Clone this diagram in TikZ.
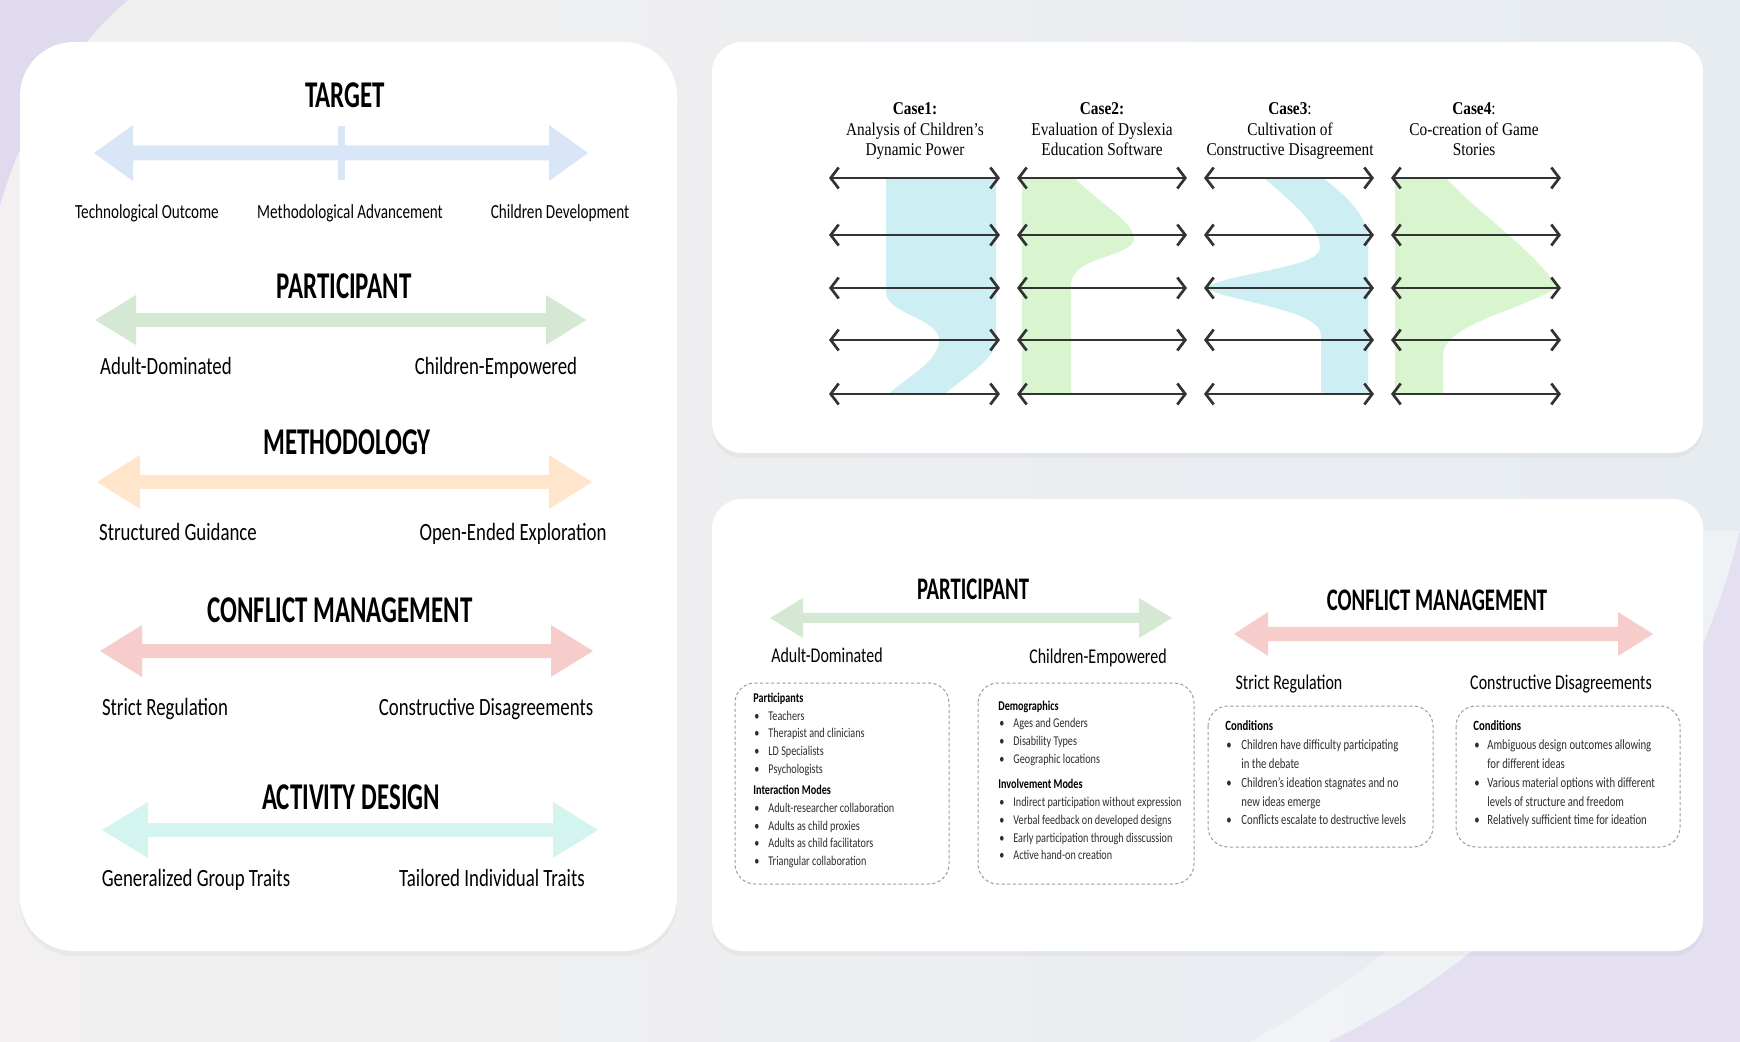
\documentclass[tikz,border=0pt]{standalone}
\usepackage{fontspec}
\setmainfont{Carlito}
\newfontfamily\labf[FakeStretch=0.76]{Carlito}
\newfontfamily\titf[FakeStretch=0.66]{Carlito}
\newfontfamily\serf[FakeStretch=0.85]{Liberation Serif}
\usetikzlibrary{arrows.meta,shadows}

\definecolor{cBlue}{HTML}{D8E6F8}
\definecolor{cGreen}{HTML}{D5E8D4}
\definecolor{cOrange}{HTML}{FFE5CC}
\definecolor{cRed}{HTML}{F6CDCB}
\definecolor{cTeal}{HTML}{D3F4EF}
\definecolor{bandCyan}{HTML}{CDEFF4}
\definecolor{bandGreen}{HTML}{D9F5CF}
\definecolor{lineDark}{HTML}{333333}
\definecolor{dashGray}{HTML}{9C9C9C}
\definecolor{txtGray}{HTML}{2E2E2E}
\definecolor{bgL}{HTML}{F2F0F0}
\definecolor{bgM}{HTML}{EFE2EE}
\definecolor{bgR}{HTML}{E7ECF1}
\definecolor{lavA}{HTML}{DFDAEE}
\definecolor{lavB}{HTML}{E4E0F2}

\newcommand\fatarrow[8]{%
  \fill[#8] (#1,#5) -- (#2,#5-#6) -- (#2,#5-#7) -- (#3,#5-#7) -- (#3,#5-#6)
    -- (#4,#5) -- (#3,#5+#6) -- (#3,#5+#7) -- (#2,#5+#7) -- (#2,#5+#6) -- cycle;}

\tikzset{
  panel/.style={fill=white, draw=none, drop shadow={opacity=0.07, shadow xshift=0pt, shadow yshift=-2.5pt}},
  ttlA/.style={inner sep=0, font=\titf\bfseries\fontsize{18.9}{20}\selectfont, text height=12.2pt, text depth=0pt},
  ttlB/.style={inner sep=0, font=\titf\bfseries\fontsize{15.7}{18}\selectfont, text height=10.1pt, text depth=0pt},
  lblS/.style={inner sep=0, font=\labf\fontsize{10}{12}\selectfont, text height=7.2pt, text depth=2pt},
  lblL/.style={inner sep=0, font=\labf\fontsize{12.4}{14}\selectfont, text height=8.9pt, text depth=2.5pt},
  lblM/.style={inner sep=0, font=\labf\fontsize{10.5}{12}\selectfont, text height=7.6pt, text depth=2.1pt},
  btxt/.style={inner sep=0, anchor=west, text=txtGray, font=\labf\fontsize{6.7}{7.5}\selectfont, text height=4.8pt, text depth=1.4pt},
  bhd/.style={btxt, text=black, font=\labf\bfseries\fontsize{6.7}{7.5}\selectfont},
  ctxt/.style={inner sep=0, anchor=west, text=txtGray, font=\labf\fontsize{7.05}{8}\selectfont, text height=5.1pt, text depth=1.5pt},
  chd/.style={ctxt, text=black, font=\labf\bfseries\fontsize{7.05}{8}\selectfont},
  casettl/.style={inner sep=0, align=center, font=\serf\fontsize{9}{10.4}\selectfont},
  caseline/.style={draw=lineDark, line width=1.35pt, {Straight Barb[length=4pt,width=10.5pt]}-{Straight Barb[length=4pt,width=10.5pt]}},
  dbox/.style={draw=dashGray, line width=0.5pt, dash pattern=on 1.6pt off 1.2pt, rounded corners=10pt},
}

\begin{document}
\begin{tikzpicture}[x=0.5pt, y=-0.5pt]
\useasboundingbox (0,0) rectangle (1740,1042);
% ---------- background ----------
\shade[left color=bgL, middle color=bgM, right color=bgR] (0,0) rectangle (1740,1042);
\fill[lavA] (0,0) -- (128,0) .. controls (70,50) and (25,120) .. (0,205) -- cycle;
\fill[white, opacity=0.35] (1740,531) .. controls (1686,753) and (1535,941) .. (1329,1042)
   -- (1250,1042) .. controls (1450,930) and (1610,760) .. (1670,531) -- cycle;
\fill[lavB] (1740,531) .. controls (1686,753) and (1535,941) .. (1329,1042) -- (1740,1042) -- cycle;

% ---------- panels ----------
\fill[panel, rounded corners=27pt] (20,42) rectangle (677,951);
\fill[panel, rounded corners=15pt] (712,42) rectangle (1703,453);
\fill[panel, rounded corners=15pt] (712,499) rectangle (1703,951);

% ---------- left panel ----------
\fatarrow{94}{133}{549}{588}{153}{28}{7.5}{cBlue}
\fill[cBlue] (338,126) rectangle (345,180);
\node[ttlA] (tTarget) at (345,95) {TARGET};
\node[lblS] (lTech) at (147,213) {Technological Outcome};
\node[lblS] (lMeth) at (350,213) {Methodological Advancement};
\node[lblS] (lChild) at (560,213) {Children Development};

\fatarrow{95}{136}{546}{586}{320}{25}{7}{cGreen}
\node[ttlA] (tPart) at (344,286) {PARTICIPANT};
\node[lblL] (lAdult) at (166,368) {Adult-Dominated};
\node[lblL] (lEmp) at (496,368) {Children-Empowered};

\fatarrow{97}{140}{549}{592}{482}{27}{7}{cOrange}
\node[ttlA] (tMethod) at (347,442) {METHODOLOGY};
\node[lblL] (lStruct) at (178,534) {Structured Guidance};
\node[lblL] (lOpen) at (513,534) {Open-Ended Exploration};

\fatarrow{100}{142}{551}{593}{651}{26}{7}{cRed}
\node[ttlA] (tConf) at (340,610) {CONFLICT MANAGEMENT};
\node[lblL] (lStrict) at (165,709) {Strict Regulation};
\node[lblL] (lConstr) at (486,709) {Constructive Disagreements};

\fatarrow{102}{148}{553}{598}{830}{28}{7}{cTeal}
\node[ttlA] (tAct) at (351,797) {ACTIVITY DESIGN};
\node[lblL] (lGen) at (196,880) {Generalized Group Traits};
\node[lblL] (lTail) at (492,880) {Tailored Individual Traits};

% ---------- top right panel: cases ----------
\fill[bandCyan] (886,178) -- (886,292) .. controls (886,314) and (939,318) .. (939,340)
   .. controls (939,362) and (905,378) .. (889,394) -- (945,394)
   .. controls (962,378) and (996,360) .. (996,340) -- (996,178) -- cycle;
\fill[bandGreen] (1022,178) -- (1075,178) .. controls (1095,200) and (1134,222) .. (1134,238)
   .. controls (1134,258) and (1071,255) .. (1071,285) -- (1071,394) -- (1022,394) -- cycle;
\fill[bandCyan] (1264,178) .. controls (1295,205) and (1320,225) .. (1320,248)
   .. controls (1320,268) and (1232,272) .. (1204,288)
   .. controls (1232,302) and (1321,310) .. (1321,335) -- (1321,394) -- (1368,394) -- (1368,240)
   .. controls (1368,215) and (1345,195) .. (1323,178) -- cycle;
\fill[bandGreen] (1395,178) -- (1446,178) .. controls (1480,215) and (1540,255) .. (1557,288)
   .. controls (1520,310) and (1443,325) .. (1443,355) -- (1443,394) -- (1395,394) -- cycle;

\foreach \c/\xa/\xb in {1/829/1000, 2/1017/1187, 3/1204/1374, 4/1391/1561} {
  \foreach \r/\yy in {1/178, 2/235, 3/288, 4/340, 5/394} {
    \coordinate (a\c\r) at (\xa,\yy);
    \coordinate (b\c\r) at (\xb,\yy);
    \draw[caseline] (a\c\r) -- (b\c\r);
  }
}

\node[casettl] (case1) at (915,131) {\strut\textbf{Case1:}\\\strut Analysis of Children’s\\\strut Dynamic Power};
\node[casettl] (case2) at (1102,131) {\strut\textbf{Case2:}\\\strut Evaluation of Dyslexia\\\strut Education Software};
\node[casettl] (case3) at (1290,131) {\strut\textbf{Case3}:\\\strut Cultivation of\\\strut Constructive Disagreement};
\node[casettl] (case4) at (1474,131) {\strut\textbf{Case4}:\\\strut Co-creation of Game\\\strut Stories};

% ---------- bottom right panel ----------
\fatarrow{770}{803}{1139}{1172}{618}{20}{5}{cGreen}
\node[ttlB] (bPart) at (973,589) {PARTICIPANT};
\node[lblM] (bAdult) at (827,657) {Adult-Dominated};
\node[lblM] (bEmp) at (1098,658) {Children-Empowered};

\fatarrow{1234}{1268}{1618}{1653}{634}{22}{7}{cRed}
\node[ttlB] (bConf) at (1437,600) {CONFLICT MANAGEMENT};
\node[lblM] (bStrict) at (1289,684) {Strict Regulation};
\node[lblM] (bConstr) at (1561,684) {Constructive Disagreements};

\draw[dbox] (735,683) rectangle (949,884);
\draw[dbox] (978,683) rectangle (1194,884);
\draw[dbox] (1208,706) rectangle (1433,847);
\draw[dbox] (1456,706) rectangle (1680,847);

% box 1
\node[bhd] (h11) at (753,699) {Participants};
\foreach \n/\yy/\t in {1/717/Teachers, 2/734/Therapist and clinicians, 3/752/LD Specialists, 4/770/Psychologists,
                       5/809/Adult-researcher collaboration, 6/827/Adults as child proxies,
                       7/844/Adults as child facilitators, 8/862/Triangular collaboration} {
  \node[btxt] (p1b\n) at (754,\yy) {•};
  \node[btxt] (p1t\n) at (768,\yy) {\t};
}
\node[bhd] (h12) at (753,791) {Interaction Modes};
% box 2
\node[bhd] (h21) at (998,707) {Demographics};
\foreach \n/\yy/\t in {1/724/Ages and Genders, 2/742/Disability Types, 3/760/Geographic locations,
                       4/803/Indirect participation without expression, 5/821/Verbal feedback on developed designs,
                       6/839/Early participation through disscussion, 7/856/Active hand-on creation} {
  \node[btxt] (p2b\n) at (999,\yy) {•};
  \node[btxt] (p2t\n) at (1013,\yy) {\t};
}
\node[bhd] (h22) at (998,785) {Involvement Modes};
% box 3
\node[chd] (h31) at (1225,727) {Conditions};
\node[ctxt] (p3b1) at (1226,746) {•};
\node[ctxt] (p3t1) at (1241,746) {Children have difficulty participating};
\node[ctxt] (p3t2) at (1241,765) {in the debate};
\node[ctxt] (p3b3) at (1226,784) {•};
\node[ctxt] (p3t3) at (1241,784) {Children’s ideation stagnates and no};
\node[ctxt] (p3t4) at (1241,803) {new ideas emerge};
\node[ctxt] (p3b5) at (1226,821) {•};
\node[ctxt] (p3t5) at (1241,821) {Conflicts escalate to destructive levels};
% box 4
\node[chd] (h41) at (1473,727) {Conditions};
\node[ctxt] (p4b1) at (1474,746) {•};
\node[ctxt] (p4t1) at (1487,746) {Ambiguous design outcomes allowing};
\node[ctxt] (p4t2) at (1487,765) {for different ideas};
\node[ctxt] (p4b3) at (1474,784) {•};
\node[ctxt] (p4t3) at (1487,784) {Various material options with different};
\node[ctxt] (p4t4) at (1487,803) {levels of structure and freedom};
\node[ctxt] (p4b5) at (1474,821) {•};
\node[ctxt] (p4t5) at (1487,821) {Relatively sufficient time for ideation};
\end{tikzpicture}
\end{document}
